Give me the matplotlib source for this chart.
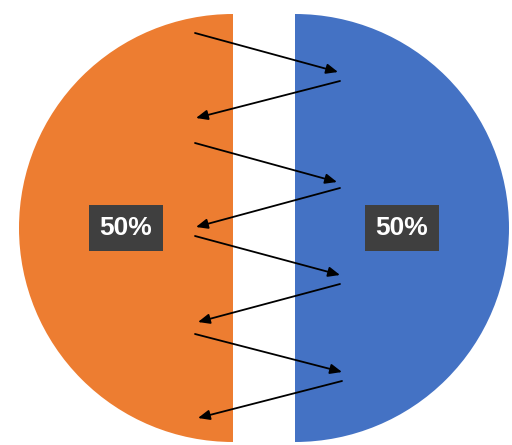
import matplotlib.pyplot as plt

# Dados do gráfico
parcelas = [50, 50]
cores = ["#ED7D31", "#4472C4"]

# Setas em zigue-zague (x inicial, y inicial, x final, y final), em pixels a partir do topo
setas_x0 = [195, 340, 195, 340, 195, 340, 195, 342]
setas_y0 = [33, 81, 143, 188, 236, 284, 334, 381]
setas_x1 = [338, 196, 337, 196, 340, 198, 342, 198]
setas_y1 = [72, 118, 182, 227, 275, 322, 372, 418]

fig = plt.figure(figsize=(5.12, 4.45), dpi=100)
ax = fig.add_axes([0, 0, 1, 1])

raio = 214
afastamento = 31  # metade do vão entre as fatias, em pixels
ax.pie(
    parcelas,
    colors=cores,
    startangle=90,
    center=(264, 228),
    radius=raio,
    explode=[afastamento, afastamento],
    autopct="%1.0f%%",
    pctdistance=0.5,
    frame=True,
    textprops=dict(
        color="white",
        fontsize=19,
        fontweight="bold",
        family=["Liberation Sans", "DejaVu Sans"],
        bbox=dict(boxstyle="square,pad=0.4", facecolor="#3f3f3f", edgecolor="none"),
    ),
)
ax.set_xlim(0, 512)
ax.set_ylim(445, 0)
ax.axis("off")

for x0, y0, x1, y1 in zip(setas_x0, setas_y0, setas_x1, setas_y1):
    ax.annotate(
        "",
        xy=(x1, y1),
        xytext=(x0, y0),
        arrowprops=dict(arrowstyle="-|>,head_length=0.7,head_width=0.3",
                        color="black", lw=1.3, shrinkA=0, shrinkB=0),
    )

plt.savefig("out.png", dpi=100)
